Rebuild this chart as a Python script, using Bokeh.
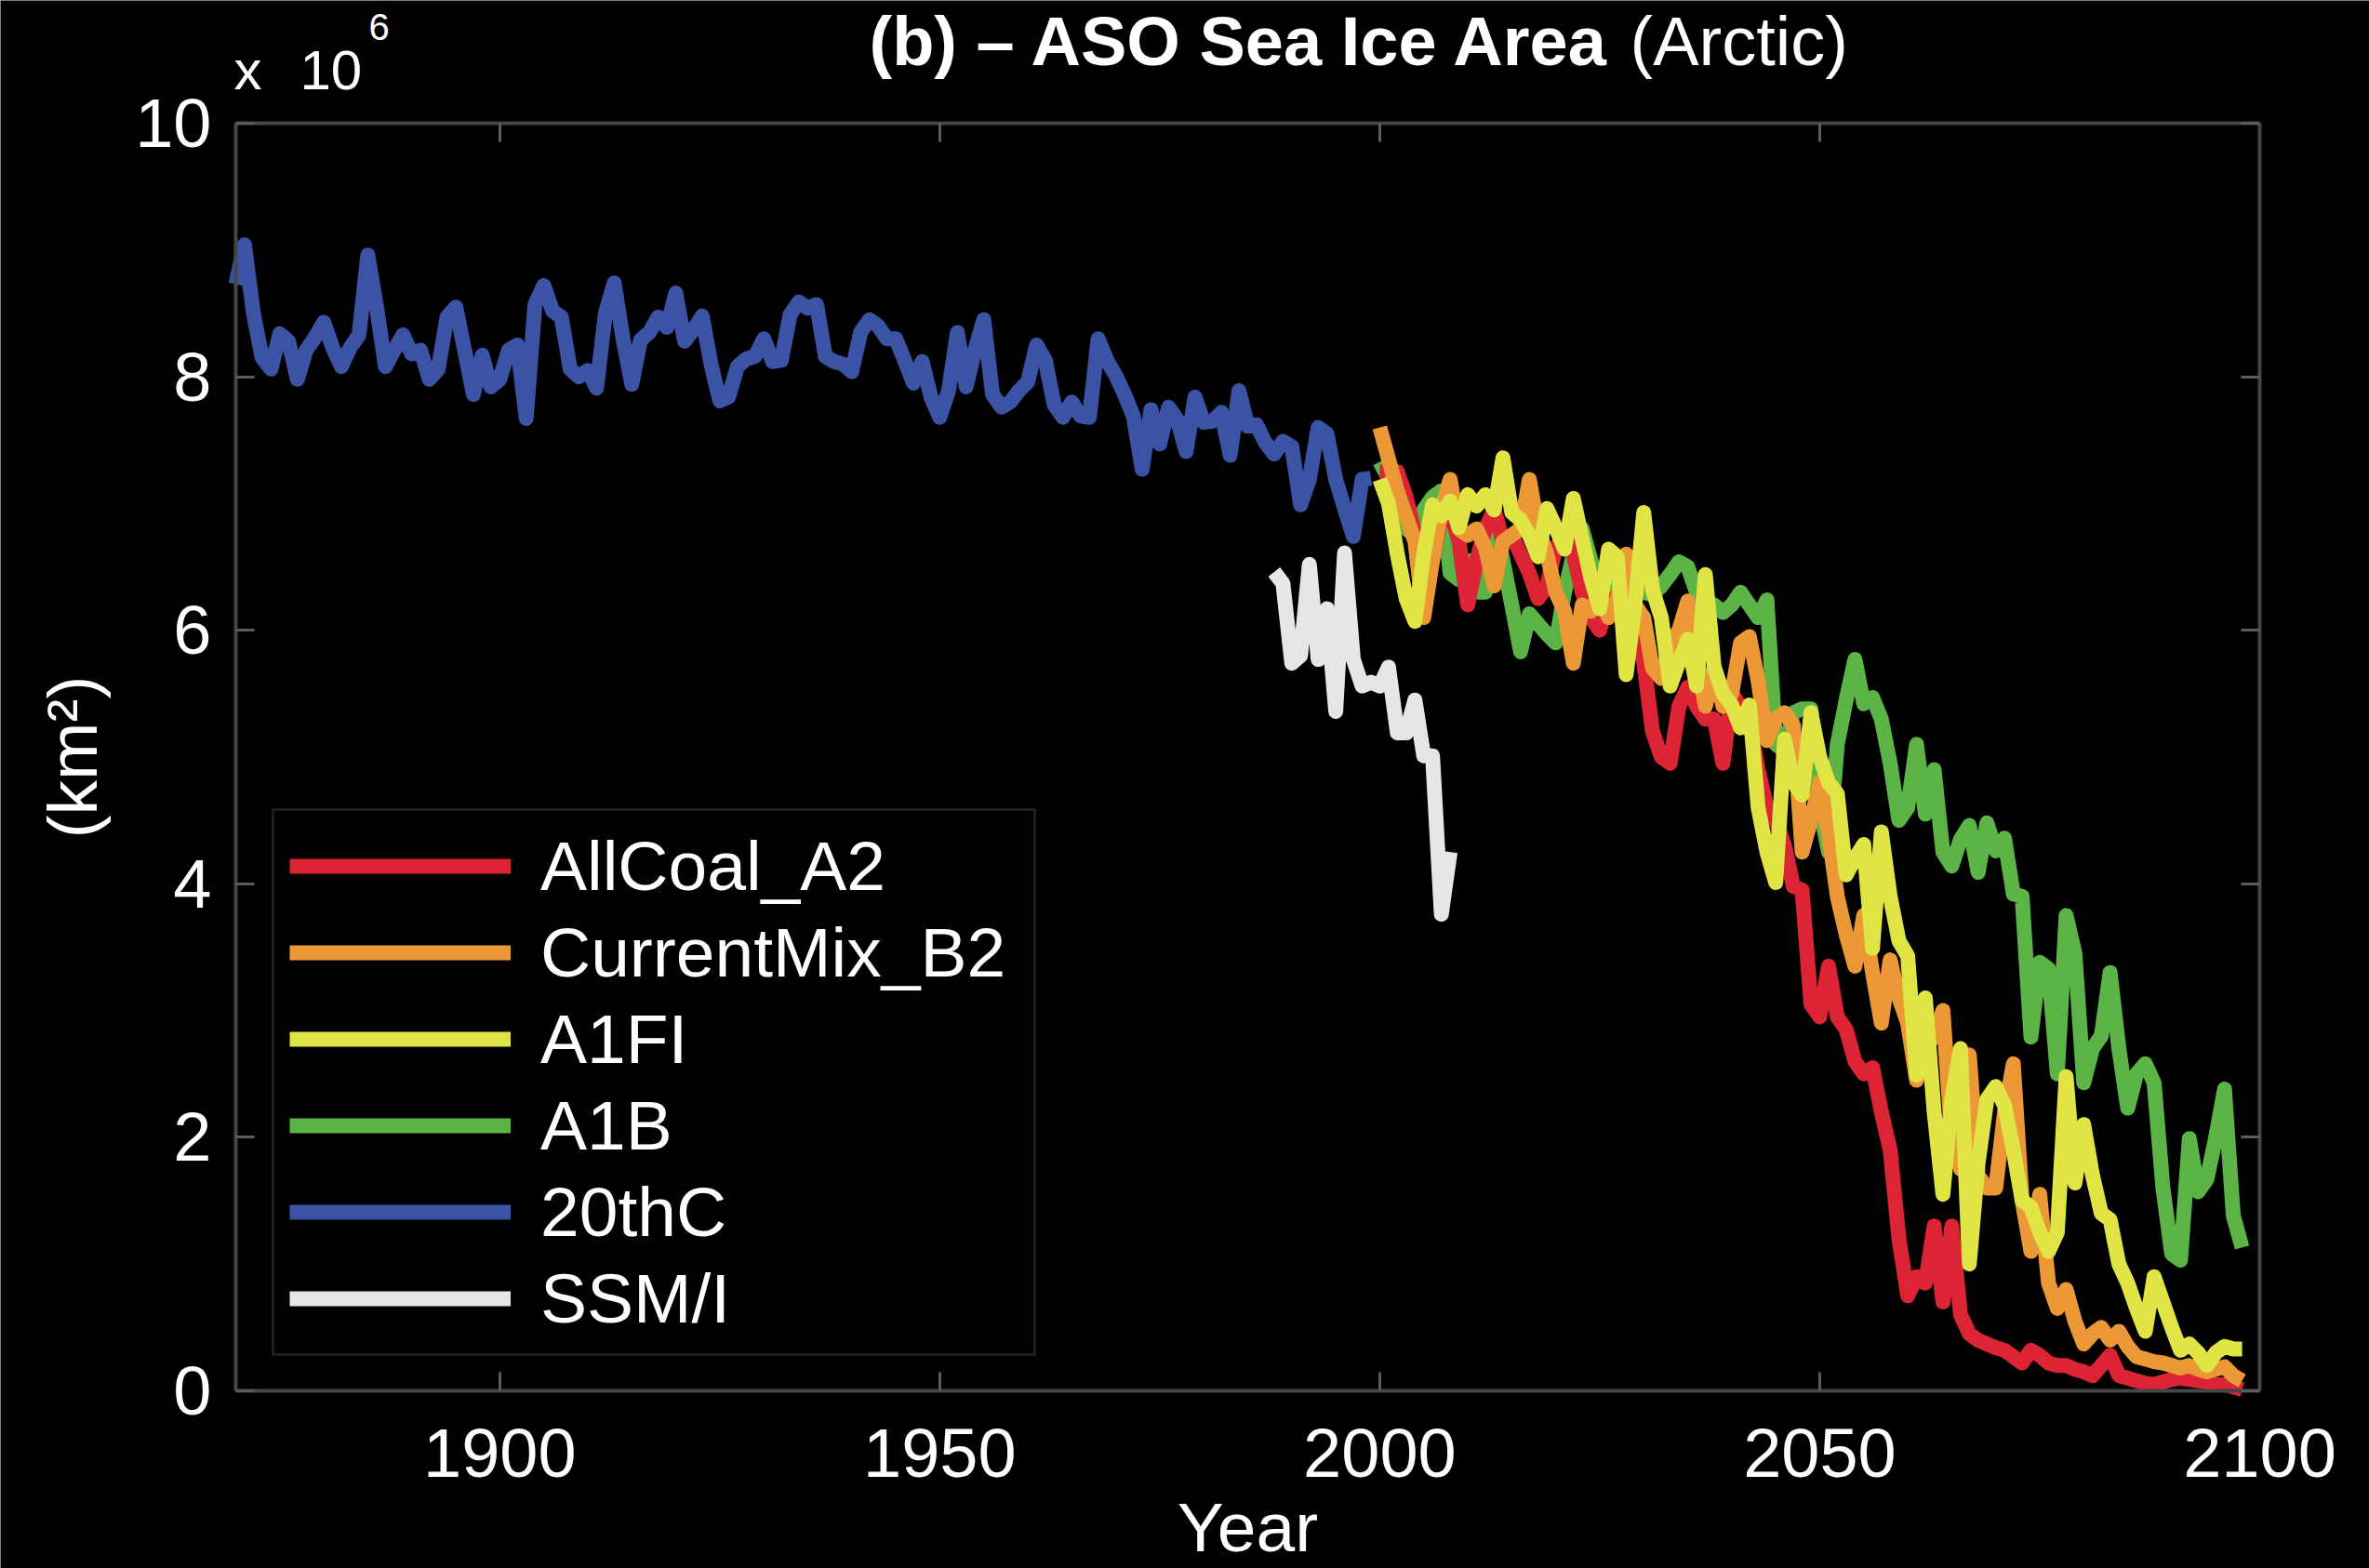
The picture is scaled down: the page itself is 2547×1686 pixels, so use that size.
from bokeh.plotting import figure
from bokeh.models import Range1d, LinearAxis, Legend, LegendItem, Label, FixedTicker
from bokeh.embed import file_html
from bokeh.resources import INLINE

# ---- ASO (Aug-Sep-Oct) Arctic sea ice area, in 10^6 km^2 ----
year_ticks = [1900, 1950, 2000, 2050, 2100]
area_ticks = [0, 2, 4, 6, 8, 10]

years_20thc = list(range(1870, 2000))
area_20thc = [
    8.73, 9.04, 8.50, 8.15, 8.06, 8.34, 8.28, 7.98, 8.21, 8.31,
    8.43, 8.23, 8.08, 8.23, 8.33, 8.96, 8.55, 8.08, 8.21, 8.33,
    8.18, 8.21, 7.98, 8.06, 8.47, 8.55, 8.21, 7.86, 8.17, 7.92,
    7.98, 8.21, 8.25, 7.67, 8.57, 8.72, 8.52, 8.47, 8.06, 8.00,
    8.05, 7.91, 8.50, 8.74, 8.30, 7.94, 8.29, 8.35, 8.47, 8.39,
    8.66, 8.28, 8.37, 8.48, 8.10, 7.81, 7.84, 8.08, 8.14, 8.16,
    8.30, 8.12, 8.13, 8.49, 8.59, 8.54, 8.57, 8.16, 8.12, 8.10,
    8.04, 8.35, 8.45, 8.40, 8.30, 8.30, 8.13, 7.95, 8.12, 7.84,
    7.68, 7.89, 8.35, 7.92, 8.21, 8.45, 7.86, 7.76, 7.80, 7.89,
    7.96, 8.25, 8.13, 7.78, 7.68, 7.80, 7.69, 7.68, 8.30, 8.13,
    8.01, 7.86, 7.69, 7.27, 7.74, 7.47, 7.76, 7.66, 7.41, 7.84,
    7.64, 7.65, 7.72, 7.38, 7.89, 7.61, 7.62, 7.48, 7.39, 7.49,
    7.45, 6.99, 7.19, 7.60, 7.55, 7.19, 6.96, 6.74, 7.19, 7.20,
]

years_ssmi = list(range(1988, 2009))
area_ssmi = [
    6.46, 6.37, 5.74, 5.80, 6.52, 5.77, 6.17, 5.36, 6.61, 5.77,
    5.56, 5.59, 5.56, 5.71, 5.19, 5.19, 5.45, 5.01, 5.01, 3.76,
    4.25,
]

years_proj = list(range(2000, 2099))
area_allcoal_a2 = [
    7.25, 7.25, 7.25, 7.05, 6.75, 6.45, 6.55, 6.90, 6.95, 6.70,
    6.20, 6.55, 6.80, 6.95, 6.70, 6.75, 6.60, 6.45, 6.25, 6.35,
    6.65, 6.75, 6.60, 6.30, 6.10, 6.00, 6.25, 6.15, 6.10, 6.00,
    5.75, 5.20, 5.00, 4.95, 5.40, 5.55, 5.40, 5.30, 5.30, 4.95,
    5.50, 5.40, 5.30, 4.90, 4.60, 4.50, 4.30, 3.98, 3.95, 3.05,
    2.95, 3.35, 2.95, 2.85, 2.60, 2.50, 2.55, 2.20, 1.90, 1.20,
    0.75, 0.90, 0.85, 1.30, 0.70, 1.30, 0.60, 0.45, 0.40, 0.37,
    0.34, 0.32, 0.27, 0.22, 0.32, 0.28, 0.22, 0.20, 0.20, 0.17,
    0.15, 0.12, 0.20, 0.28, 0.12, 0.10, 0.08, 0.06, 0.05, 0.07,
    0.09, 0.10, 0.09, 0.08, 0.07, 0.05, 0.05, 0.03, 0.01,
]
area_currentmix_b2 = [
    7.60, 7.35, 7.10, 6.90, 6.70, 6.10, 6.55, 6.95, 7.19, 6.80,
    6.75, 6.80, 6.65, 6.35, 6.70, 6.75, 6.80, 7.19, 6.80, 6.60,
    6.30, 6.15, 5.74, 6.20, 6.15, 6.30, 6.10, 6.25, 6.60, 6.20,
    6.10, 5.70, 5.62, 5.90, 6.00, 6.23, 5.80, 5.40, 5.70, 5.40,
    5.50, 5.90, 5.95, 5.60, 5.13, 5.30, 5.35, 5.25, 4.25, 4.50,
    4.80, 4.40, 3.90, 3.60, 3.35, 3.75, 3.30, 2.90, 3.40, 3.10,
    2.90, 2.45, 2.70, 2.80, 3.00, 2.00, 1.75, 2.65, 1.70, 1.60,
    1.60, 2.20, 2.58, 1.50, 1.10, 1.55, 0.85, 0.65, 0.80, 0.55,
    0.37, 0.45, 0.50, 0.40, 0.47, 0.35, 0.27, 0.25, 0.23, 0.22,
    0.20, 0.18, 0.20, 0.17, 0.15, 0.17, 0.19, 0.12, 0.08,
]
area_a1fi = [
    7.19, 7.00, 6.60, 6.25, 6.07, 6.60, 6.99, 6.90, 7.02, 6.81,
    7.07, 6.98, 7.07, 6.95, 7.36, 6.93, 6.87, 6.75, 6.58, 6.96,
    6.81, 6.64, 7.04, 6.72, 6.41, 6.17, 6.64, 6.58, 5.65, 6.20,
    6.93, 6.32, 6.10, 5.56, 5.75, 5.93, 5.56, 6.44, 5.71, 5.50,
    5.41, 5.23, 5.41, 4.60, 4.25, 4.01, 5.14, 4.80, 4.70, 5.35,
    5.00, 4.80, 4.71, 4.07, 4.20, 4.31, 3.49, 4.41, 3.90, 3.55,
    3.43, 2.49, 3.10, 2.20, 1.55, 2.30, 2.70, 1.00, 1.80, 2.30,
    2.40, 2.25, 1.90, 1.50, 1.45, 1.25, 1.10, 1.25, 2.48, 1.64,
    2.10, 1.70, 1.40, 1.35, 1.00, 0.85, 0.65, 0.47, 0.90, 0.70,
    0.50, 0.32, 0.37, 0.30, 0.20, 0.30, 0.35, 0.33, 0.33,
]
area_a1b = [
    7.33, 7.20, 7.00, 6.80, 6.75, 6.95, 7.05, 7.10, 6.45, 6.40,
    6.55, 6.30, 6.30, 6.90, 6.55, 6.20, 5.83, 6.13, 6.05, 5.97,
    5.90, 6.30, 6.60, 6.80, 6.55, 6.40, 6.45, 6.30, 6.20, 6.35,
    6.30, 6.28, 6.35, 6.44, 6.54, 6.50, 6.30, 6.22, 6.20, 6.14,
    6.20, 6.30, 6.20, 6.10, 6.24, 5.10, 5.05, 5.35, 5.38, 5.38,
    4.60, 4.25, 5.10, 5.45, 5.77, 5.42, 5.47, 5.30, 4.95, 4.50,
    4.60, 5.10, 4.55, 4.90, 4.25, 4.14, 4.35, 4.46, 4.09, 4.48,
    4.26, 4.36, 3.92, 3.90, 2.79, 3.38, 3.33, 2.50, 3.75, 3.45,
    2.43, 2.70, 2.80, 3.30, 2.70, 2.23, 2.50, 2.58, 2.43, 1.60,
    1.08, 1.03, 1.99, 1.57, 1.67, 2.00, 2.38, 1.38, 1.13,
]

FONT = "Liberation Sans"
AXIS_GREY = "#474747"
TICK_GREY = "#5c5c5c"
LW = 16

# canvas and axes box, in pixels
W, H = 2547, 1686
BOX_L, BOX_R, BOX_T, BOX_B = 253, 2429, 132, 1495
X0, X1 = 1870, 2100
Y0, Y1 = 0, 10

# the frame spans the whole canvas; the axes box is drawn with fixed-location axes
px_x = (BOX_R - BOX_L) / (X1 - X0)
px_y = (BOX_B - BOX_T) / (Y1 - Y0)
x_range = Range1d(X0 - BOX_L / px_x, X1 + (W - BOX_R) / px_x)
y_range = Range1d(Y0 - (H - BOX_B) / px_y, Y1 + BOX_T / px_y)

p = figure(
    width=W, height=H,
    output_backend="svg", toolbar_location=None,
    x_range=x_range, y_range=y_range,
    background_fill_color="black", border_fill_color="black",
    min_border=0,
    y_axis_label="(km²)",
)
p.outline_line_color = None
p.grid.visible = False


def style_axis(ax, ticks, bounds, loc, labelled):
    ax.ticker = FixedTicker(ticks=ticks)
    ax.bounds = bounds
    ax.fixed_location = loc
    ax.axis_line_color = AXIS_GREY
    ax.axis_line_width = 4
    ax.major_tick_line_color = TICK_GREY
    ax.major_tick_line_width = 3
    ax.major_tick_in = 20
    ax.major_tick_out = 0
    ax.minor_tick_line_color = None
    ax.major_label_text_font = FONT
    ax.major_label_text_font_size = "74px"
    ax.major_label_text_color = "white" if labelled else None


style_axis(p.xaxis[0], year_ticks, (X0, X1), Y0, True)
p.xaxis[0].major_label_standoff = 41
style_axis(p.yaxis[0], area_ticks, (Y0, Y1), X0, True)
p.yaxis[0].major_label_standoff = 26
p.yaxis[0].axis_label_text_color = "white"
p.yaxis[0].axis_label_text_font = FONT
p.yaxis[0].axis_label_text_font_size = "75px"
p.yaxis[0].axis_label_text_font_style = "normal"
p.yaxis[0].axis_label_standoff = 22

top_axis = LinearAxis()
style_axis(top_axis, year_ticks, (X0, X1), Y1, False)
p.add_layout(top_axis, "above")
right_axis = LinearAxis()
style_axis(right_axis, area_ticks, (Y0, Y1), X1, False)
p.add_layout(right_axis, "right")

# scenario runs first, observed records on top
r_a1b = p.line(years_proj, area_a1b, line_color="#5cb446", line_width=LW, line_join="round")
r_a2 = p.line(years_proj, area_allcoal_a2, line_color="#dc2434", line_width=LW, line_join="round")
r_b2 = p.line(years_proj, area_currentmix_b2, line_color="#ec9836", line_width=LW, line_join="round")
r_a1fi = p.line(years_proj, area_a1fi, line_color="#e0e444", line_width=LW, line_join="round")
r_20c = p.line(years_20thc, area_20thc, line_color="#3b53a5", line_width=LW, line_join="round")
r_ssmi = p.line(years_ssmi, area_ssmi, line_color="#e6e6e6", line_width=LW, line_join="round")

legend = Legend(
    items=[
        LegendItem(label="AllCoal_A2", renderers=[r_a2]),
        LegendItem(label="CurrentMix_B2", renderers=[r_b2]),
        LegendItem(label="A1FI", renderers=[r_a1fi]),
        LegendItem(label="A1B", renderers=[r_a1b]),
        LegendItem(label="20thC", renderers=[r_20c]),
        LegendItem(label="SSM/I", renderers=[r_ssmi]),
    ],
    location=(292, H - 1458),
    background_fill_color="black", background_fill_alpha=1.0,
    border_line_color="#3c3c3c", border_line_width=3,
    label_text_color="white", label_text_font=FONT, label_text_font_size="75px",
    glyph_width=238, glyph_height=60, label_width=514,
    label_standoff=32, spacing=7, padding=16, margin=0,
)
p.add_layout(legend, "center")


def xpos(px):
    return x_range.start + px / px_x


def ypos(py):
    return y_range.end - py / px_y


# title (bold lead, regular region name), axis multiplier and x label
p.add_layout(Label(x=xpos(934), y=ypos(44), text="(b) – ASO Sea Ice Area",
                   text_color="white", text_font=FONT, text_font_size="74px",
                   text_font_style="bold", text_baseline="alphabetic"))
p.add_layout(Label(x=xpos(1752), y=ypos(44), text="(Arctic)",
                   text_color="white", text_font=FONT, text_font_size="74px",
                   text_baseline="alphabetic"))
p.add_layout(Label(x=xpos(251), y=ypos(75), text="x",
                   text_color="white", text_font=FONT, text_font_size="60px",
                   text_baseline="alphabetic"))
p.add_layout(Label(x=xpos(322), y=ypos(75), text="10",
                   text_color="white", text_font=FONT, text_font_size="60px",
                   text_baseline="alphabetic"))
p.add_layout(Label(x=xpos(396), y=ypos(28), text="6",
                   text_color="white", text_font=FONT, text_font_size="40px",
                   text_baseline="alphabetic"))
p.add_layout(Label(x=xpos(1341), y=ypos(1641), text="Year",
                   text_color="white", text_font=FONT, text_font_size="75px",
                   text_align="center", text_baseline="alphabetic"))

open("out.html", "w").write(file_html(p, INLINE))
